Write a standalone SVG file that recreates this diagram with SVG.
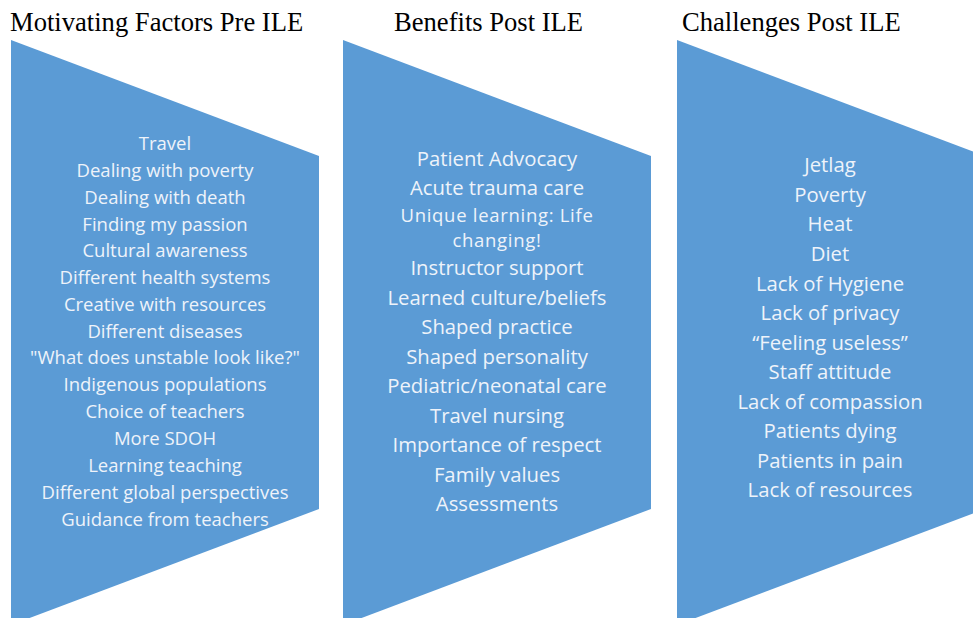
<svg xmlns="http://www.w3.org/2000/svg" width="973" height="618" viewBox="0 0 973 618">
<style>
.shape{fill:#5b9bd5}
.title{font-family:"Liberation Serif","Times New Roman",serif;font-size:26.6px;fill:#000}
.item{font-family:"Open Sans","Liberation Sans",sans-serif;font-size:18.5px;fill:#eef3fa;text-anchor:middle}
.big{font-size:20.3px}
.wrap{font-size:18.5px;letter-spacing:0.7px}
</style>
<rect width="973" height="618" fill="#fff"/>
<g id="motivating">
<polygon class="shape" points="11,40 319,156 319,509 11,625"/>
<text class="title" x="10" y="31">Motivating Factors Pre ILE</text>
<text class="item" x="165" y="150">Travel</text>
<text class="item" x="165" y="177">Dealing with poverty</text>
<text class="item" x="165" y="204">Dealing with death</text>
<text class="item" x="165" y="231">Finding my passion</text>
<text class="item" x="165" y="257">Cultural awareness</text>
<text class="item" x="165" y="284">Different health systems</text>
<text class="item" x="165" y="311">Creative with resources</text>
<text class="item" x="165" y="338">Different diseases</text>
<text class="item" x="165" y="364">"What does unstable look like?"</text>
<text class="item" x="165" y="391">Indigenous populations</text>
<text class="item" x="165" y="418">Choice of teachers</text>
<text class="item" x="165" y="445">More SDOH</text>
<text class="item" x="165" y="472">Learning teaching</text>
<text class="item" x="165" y="499">Different global perspectives</text>
<text class="item" x="165" y="526">Guidance from teachers</text>
</g>
<g id="benefits">
<polygon class="shape" points="343,40 651,156 651,509 343,625"/>
<text class="title" x="394" y="31">Benefits Post ILE</text>
<text class="item big" x="497" y="166">Patient Advocacy</text>
<text class="item big" x="497" y="195">Acute trauma care</text>
<text class="item wrap" x="497" y="222">Unique learning: Life</text>
<text class="item wrap" x="497" y="247.3">changing!</text>
<text class="item big" x="497" y="275">Instructor support</text>
<text class="item big" x="497" y="305">Learned culture/beliefs</text>
<text class="item big" x="497" y="334">Shaped practice</text>
<text class="item big" x="497" y="364">Shaped personality</text>
<text class="item big" x="497" y="393">Pediatric/neonatal care</text>
<text class="item big" x="497" y="423">Travel nursing</text>
<text class="item big" x="497" y="452">Importance of respect</text>
<text class="item big" x="497" y="482">Family values</text>
<text class="item big" x="497" y="511">Assessments</text>
</g>
<g id="challenges">
<polygon class="shape" points="677,40 985,156 985,509 677,625"/>
<text class="title" x="682" y="31">Challenges Post ILE</text>
<text class="item big" x="830" y="172">Jetlag</text>
<text class="item big" x="830" y="202">Poverty</text>
<text class="item big" x="830" y="231">Heat</text>
<text class="item big" x="830" y="261">Diet</text>
<text class="item big" x="830" y="291">Lack of Hygiene</text>
<text class="item big" x="830" y="320">Lack of privacy</text>
<text class="item big" x="830" y="350">“Feeling useless”</text>
<text class="item big" x="830" y="379">Staff attitude</text>
<text class="item big" x="830" y="409">Lack of compassion</text>
<text class="item big" x="830" y="438">Patients dying</text>
<text class="item big" x="830" y="468">Patients in pain</text>
<text class="item big" x="830" y="497">Lack of resources</text>
</g>
<g id="connectors"></g>
</svg>
